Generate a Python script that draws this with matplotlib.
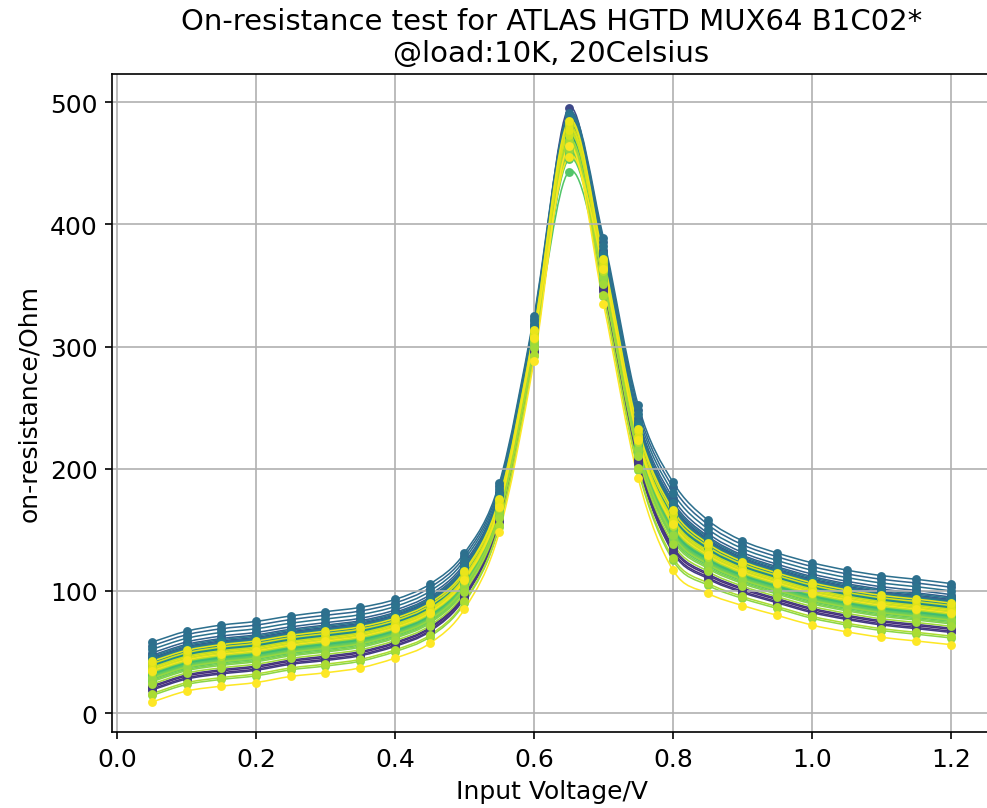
import matplotlib
matplotlib.use("Agg")
import matplotlib.pyplot as plt
import numpy as np
from matplotlib.path import Path
from matplotlib.patches import PathPatch

# input voltage steps (V)
volts = [0.05, 0.10, 0.15, 0.20, 0.25, 0.30, 0.35, 0.40, 0.45, 0.50, 0.55, 0.60,
         0.65, 0.70, 0.75, 0.80, 0.85, 0.90, 0.95, 1.00, 1.05, 1.10, 1.15, 1.20]

# highest and lowest channel (Ohm)
upper_ohm = [58, 67, 72, 75, 79.5, 83, 86.5, 93, 105.5, 131, 188, 325,
             495, 389, 252, 189, 158, 141, 131, 123, 117, 112.5, 109.5, 106]
lower_ohm = [9, 18, 22, 25, 30, 33, 37, 45, 57, 85, 148, 288,
             443, 335, 192, 117, 98, 88, 80, 72, 66.5, 62, 59, 56]

# where each of the 64 channels sits between lowest (0) and highest (1)
channel_pos = [0.60, 0.56, 0.64, 0.70, 0.62, 0.58, 0.66, 0.60,
               0.25, 0.22, 0.27, 0.20, 0.68, 0.63, 0.72, 0.60,
               0.70, 0.74, 0.66, 0.78, 0.82, 0.94, 0.72, 1.00,
               0.88, 0.76, 0.68, 0.64, 0.70, 0.60, 0.66, 0.56,
               0.62, 0.52, 0.58, 0.50, 0.55, 0.47, 0.53, 0.45,
               0.50, 0.44, 0.49, 0.46, 0.42, 0.48, 0.40, 0.44,
               0.38, 0.42, 0.36, 0.34, 0.11, 0.40, 0.30, 0.14,
               0.50, 0.58, 0.54, 0.64, 0.56, 0.68, 0.52, 0.00]
# same, at the 0.65 V peak
peak_pos = [0.74, 0.70, 0.72, 0.80, 0.72, 0.66, 0.80, 0.70,
            0.84, 0.86, 0.82, 0.78, 0.84, 0.76, 1.00, 0.82,
            0.74, 0.86, 0.78, 0.88, 0.80, 0.90, 0.82, 0.92,
            0.86, 0.88, 0.80, 0.72, 0.66, 0.60, 0.64, 0.56,
            0.60, 0.52, 0.58, 0.48, 0.54, 0.44, 0.50, 0.40,
            0.46, 0.34, 0.42, 0.30, 0.36, 0.24, 0.00, 0.20,
            0.32, 0.28, 0.38, 0.42, 0.46, 0.34, 0.50, 0.44,
            0.62, 0.70, 0.58, 0.76, 0.66, 0.80, 0.24, 0.40]


def smooth_path(x, y):
    pts = np.column_stack([x, y])
    ext = np.vstack([2 * pts[0] - pts[1], pts, 2 * pts[-1] - pts[-2]])
    verts = [pts[0]]
    codes = [Path.MOVETO]
    for k in range(len(pts) - 1):
        p0, p1, p2, p3 = ext[k], ext[k + 1], ext[k + 2], ext[k + 3]
        verts += [p1 + (p2 - p0) / 6, p2 - (p3 - p1) / 6, p2]
        codes += [Path.CURVE4] * 3
    return Path(verts, codes)


def main():
    plt.rcParams.update({"font.size": 12})
    x = np.array(volts)
    lo = np.array(lower_ohm)
    hi = np.array(upper_ohm)
    peak_idx = volts.index(0.65)

    fig = plt.figure(figsize=(6.58, 5.393), dpi=150)
    ax = fig.add_axes([112 / 987, (809 - 733) / 809, 879 / 987, 658 / 809])
    cmap = plt.get_cmap("viridis")
    n = len(channel_pos)
    for i in range(n):
        t = np.full(len(volts), channel_pos[i])
        t[peak_idx] = peak_pos[i]
        y = lo + t * (hi - lo)
        color = cmap(i / (n - 1))
        ax.add_patch(PathPatch(smooth_path(x, y), fill=False, edgecolor=color, lw=0.75))
        ax.plot(x, y, ".", color=color, ms=6.5)

    ax.set_xlim(-0.0072, 1.2576)
    ax.set_ylim(-15.5, 523)
    ax.set_xticks([0.0, 0.2, 0.4, 0.6, 0.8, 1.0, 1.2])
    ax.set_yticks([0, 100, 200, 300, 400, 500])
    ax.grid(True)
    ax.set_xlabel("Input Voltage/V")
    ax.set_ylabel("on-resistance/Ohm")
    ax.set_title("On-resistance test for ATLAS HGTD MUX64 B1C02*\n@load:10K, 20Celsius", fontsize=14)
    fig.savefig("out.png", dpi=150)


if __name__ == "__main__":
    main()
